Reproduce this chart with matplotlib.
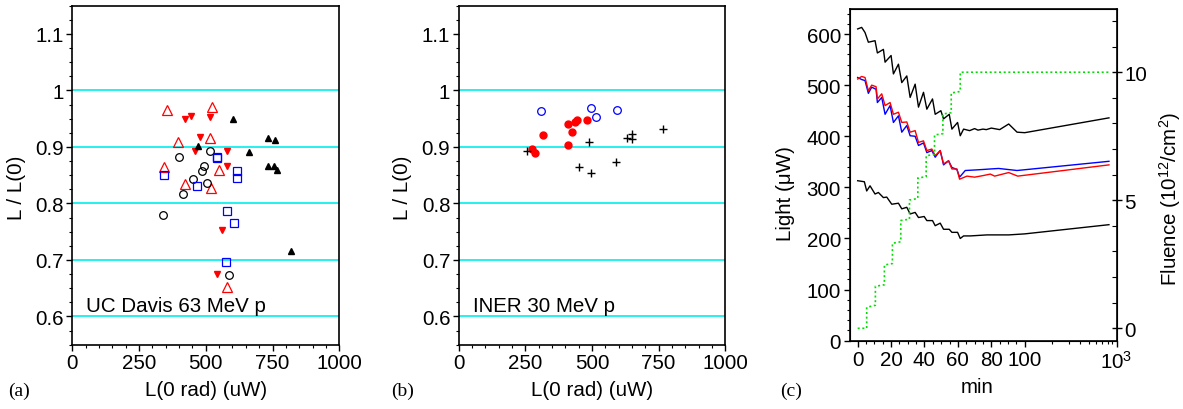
import numpy as np
import matplotlib
matplotlib.use("Agg")
import matplotlib.pyplot as plt
from matplotlib.ticker import MultipleLocator, FixedLocator, FixedFormatter, NullFormatter


# panel (a): UC Davis 63 MeV p, L(0 rad) in uW vs L / L(0)
a_open_tri_x = [353, 524, 395, 517, 342, 421, 548, 519, 580]
a_open_tri_y = [0.966, 0.971, 0.909, 0.916, 0.864, 0.835, 0.860, 0.827, 0.652]
a_down_tri_x = [422, 443, 516, 479, 459, 578, 578, 561, 543]
a_down_tri_y = [0.950, 0.954, 0.953, 0.918, 0.892, 0.892, 0.866, 0.753, 0.676]
a_circle_x = [398, 517, 493, 487, 451, 506, 415, 341, 588]
a_circle_y = [0.882, 0.892, 0.866, 0.857, 0.844, 0.837, 0.817, 0.780, 0.674]
a_square_x = [343, 541, 543, 466, 616, 616, 579, 604, 577]
a_square_y = [0.851, 0.880, 0.883, 0.831, 0.858, 0.845, 0.787, 0.765, 0.697]
a_black_tri_x = [603, 470, 662, 734, 759, 734, 755, 768, 818]
a_black_tri_y = [0.950, 0.901, 0.891, 0.916, 0.913, 0.867, 0.867, 0.860, 0.715]

# panel (b): INER 30 MeV p
b_open_circle_x = [307, 495, 515, 593]
b_open_circle_y = [0.963, 0.969, 0.953, 0.965]
b_red_dot_x = [315, 410, 425, 437, 442, 480, 410, 276, 286]
b_red_dot_y = [0.922, 0.941, 0.927, 0.945, 0.947, 0.947, 0.904, 0.896, 0.890]
b_plus_x = [255, 488, 453, 498, 590, 630, 651, 651, 766]
b_plus_y = [0.893, 0.908, 0.865, 0.854, 0.873, 0.915, 0.923, 0.914, 0.932]

ratio_ticks = [0.6, 0.7, 0.8, 0.9, 1.0, 1.1]
ratio_labels = ["0.6", "0.7", "0.8", "0.9", "1", "1.1"]
light_ticks = [0, 250, 500, 750, 1000]

# panel (c): light output (uW) and fluence vs time (min)
top_t = [0, 2.4, 4.4, 6.4, 10.4, 11.8, 15.4, 16.4, 20, 21.4, 24.4, 26.4, 29.4,
         31.4, 34.4, 36.4, 39.4, 41.4, 44.8, 46.4, 49.8, 51.4, 54.8, 56.4, 59.8,
         61.4, 63.4, 67, 70, 72, 75, 77, 80, 85, 90.4, 95.4, 100, 825]
top_v = [610, 613, 603, 584, 587, 563, 570, 545, 558, 522, 541, 505, 518,
         476, 502, 457, 486, 453, 473, 443, 450, 434, 443, 414, 427,
         401, 414, 411, 415, 412, 414, 413, 416, 413, 424, 408, 407, 436]

red_t = [0, 2.4, 4.4, 6.4, 8.4, 11, 11.8, 14.4, 16.4, 19.4, 21.4, 24.4, 26.4,
         29.4, 31.4, 34.4, 36.4, 39.4, 41.4, 44.4, 46.4, 49.4, 51.4, 54.4, 56.4,
         59.4, 61, 65.4, 70, 75, 79.4, 82, 90.4, 95.8, 825]
red_v = [512, 517, 515, 489, 500, 497, 473, 483, 460, 466, 443, 447, 427,
         428, 408, 411, 388, 391, 372, 375, 362, 372, 346, 352, 336,
         336, 316, 322, 320, 323, 326, 322, 329, 322, 344]

blue_t = [0, 2.4, 4.4, 6.4, 8.4, 11, 11.8, 14.4, 16.4, 19.4, 21.4, 24.4, 26.4,
          29.4, 31.4, 34.4, 36.4, 39.4, 41.4, 44.4, 46.4, 49.4, 51.4, 54.4, 56.4,
          59.4, 61, 64.4, 70, 75, 79.4, 84.4, 95.4, 825]
blue_v = [515, 511, 509, 484, 496, 492, 466, 476, 443, 460, 427, 440, 408,
          421, 401, 400, 382, 387, 368, 372, 359, 372, 344, 352, 339,
          335, 320, 333, 334, 335, 336, 337, 333, 351]

low_t = [0, 4, 5.4, 7.4, 10.4, 12.4, 15.4, 17.4, 20.4, 24.4, 26.4, 29.4, 31.4,
         34.4, 36.4, 39.8, 41.4, 44.8, 46.4, 49.4, 51.4, 54.8, 56.4, 59.8, 61.4,
         63.4, 67.4, 77.4, 90.4, 100, 825]
low_v = [313, 311, 293, 303, 287, 290, 280, 281, 267, 269, 258, 261, 248,
         251, 241, 243, 235, 235, 225, 230, 218, 218, 212, 212, 200,
         205, 205, 207, 207, 209, 227]

fluence_t = [0, 5.4, 5.4, 10.6, 10.6, 16, 16, 20.8, 20.8, 25.8, 25.8, 31, 31,
             36, 36, 41, 41, 46, 46, 51, 51, 56, 56, 61.4, 61.4, 825]
fluence_v = [0, 0, 0.82, 0.90, 1.64, 1.70, 2.47, 2.53, 3.32, 3.38, 4.21, 4.26, 5.01,
             5.07, 5.87, 5.92, 6.74, 6.79, 7.55, 7.60, 8.37, 8.42, 9.19, 9.25, 10.0, 10.0]

CYAN = "#00eeee"
FS = 14.8


def fwd(x):
    x = np.asarray(x, dtype=float)
    return np.where(x <= 100, x, 100 + 55 * np.log10(np.maximum(x, 1e-9) / 100))


def inv(y):
    y = np.asarray(y, dtype=float)
    return np.where(y <= 100, y, 100 * 10 ** ((y - 100) / 55))


def ratio_axes(ax, text):
    for level in [0.6, 0.7, 0.8, 0.9, 1.0]:
        ax.axhline(level, color=CYAN, lw=1.2, zorder=1)
    ax.set_xlim(0, 1000)
    ax.set_ylim(0.55, 1.15)
    ax.xaxis.set_major_locator(FixedLocator(light_ticks))
    ax.xaxis.set_minor_locator(MultipleLocator(50))
    ax.yaxis.set_major_locator(FixedLocator(ratio_ticks))
    ax.yaxis.set_major_formatter(FixedFormatter(ratio_labels))
    ax.yaxis.set_minor_locator(MultipleLocator(0.025))
    ax.tick_params(which="major", direction="out", length=4, width=1, labelsize=FS, pad=2)
    ax.tick_params(which="minor", direction="out", length=2.2, width=0.8)
    for sp in ax.spines.values():
        sp.set_linewidth(1.2)
    ax.text(52, 0.609, text, fontsize=FS, va="baseline")
    ax.set_xlabel("L(0 rad) (uW)", fontsize=FS)
    ax.set_ylabel("L / L(0)", fontsize=FS)
    ax.xaxis.set_label_coords(0.5, -0.105)
    ax.yaxis.set_label_coords(-0.175, 0.465)


def panel_a(ax):
    ratio_axes(ax, "UC Davis 63 MeV p")
    ax.plot(a_open_tri_x, a_open_tri_y, ls="none", marker="^", ms=6.5, mfc="none",
            mec="red", mew=0.9, zorder=3)
    ax.plot(a_down_tri_x, a_down_tri_y, ls="none", marker="v", ms=5, color="red", zorder=3)
    ax.plot(a_circle_x, a_circle_y, ls="none", marker="o", ms=5.5, mfc="none",
            mec="black", mew=0.9, zorder=3)
    ax.plot(a_square_x, a_square_y, ls="none", marker="s", ms=5.3, mfc="none",
            mec="blue", mew=0.9, zorder=3)
    ax.plot(a_black_tri_x, a_black_tri_y, ls="none", marker="^", ms=4.5, color="black", zorder=3)


def panel_b(ax):
    ratio_axes(ax, "INER 30 MeV p")
    ax.plot(b_open_circle_x, b_open_circle_y, ls="none", marker="o", ms=5.5, mfc="none",
            mec="blue", mew=0.9, zorder=3)
    ax.plot(b_red_dot_x, b_red_dot_y, ls="none", marker="o", ms=5, color="red", zorder=3)
    ax.plot(b_plus_x, b_plus_y, ls="none", marker="+", ms=6, mew=1.0, color="black", zorder=3)


def panel_c(ax):
    ax.set_xscale("function", functions=(fwd, inv))
    ax.plot(top_t, top_v, color="black", lw=1.0)
    ax.plot(blue_t, blue_v, color="blue", lw=1.0)
    ax.plot(red_t, red_v, color="red", lw=1.0)
    ax.plot(low_t, low_v, color="black", lw=1.0)
    ax.set_xlim(-4.6, 1000)
    ax.set_ylim(0, 649)
    ax.xaxis.set_major_locator(FixedLocator([0, 20, 40, 60, 80, 100, 1000]))
    ax.xaxis.set_major_formatter(FixedFormatter(["0", "20", "40", "60", "80", "100", "$10^3$"]))
    minor = list(range(5, 100, 5)) + list(range(200, 1000, 100))
    ax.xaxis.set_minor_locator(FixedLocator(minor))
    ax.xaxis.set_minor_formatter(NullFormatter())
    ax.yaxis.set_major_locator(MultipleLocator(100))
    ax.yaxis.set_minor_locator(MultipleLocator(20))
    ax.tick_params(which="major", direction="out", length=4.5, width=1, labelsize=FS, pad=2)
    ax.tick_params(which="minor", direction="out", length=2.2, width=0.8)
    for sp in ax.spines.values():
        sp.set_linewidth(1.2)
    ax.set_xlabel("min", fontsize=FS)
    ax.set_ylabel("Light (\u03bcW)", fontsize=FS)
    ax.xaxis.set_label_coords(0.475, -0.11)
    ax.yaxis.set_label_coords(-0.205, 0.448)

    axr = ax.twinx()
    axr.plot(fluence_t, fluence_v, color="#00dd00", lw=1.2, ls=(0, (1.2, 1.6)))
    axr.set_ylim(-0.484, 12.47)
    axr.yaxis.set_major_locator(FixedLocator([0, 5, 10]))
    axr.yaxis.set_minor_locator(MultipleLocator(1))
    axr.tick_params(which="major", direction="inout", length=7, width=1, labelsize=FS, pad=2)
    axr.tick_params(which="minor", direction="in", length=3.5, width=0.8)
    axr.set_ylabel("Fluence (10$^{12}$/cm$^2$)", fontsize=FS)
    axr.yaxis.set_label_coords(1.15, 0.43)


def main():
    plt.rcParams["font.family"] = ["Liberation Sans", "DejaVu Sans"]
    plt.rcParams["mathtext.fontset"] = "custom"
    plt.rcParams["mathtext.rm"] = "Liberation Sans"
    plt.rcParams["mathtext.default"] = "rm"

    fig = plt.figure(figsize=(11.83, 4.10), dpi=100)
    ax_a = fig.add_axes([0.0611, 0.1568, 0.2257, 0.8268])
    ax_b = fig.add_axes([0.3877, 0.1568, 0.2254, 0.8268])
    ax_c = fig.add_axes([0.7185, 0.1666, 0.2254, 0.8090])

    panel_a(ax_a)
    panel_b(ax_b)
    panel_c(ax_c)

    for x, label in [(0.0068, "(a)"), (0.331, "(b)"), (0.6593, "(c)")]:
        fig.text(x, 0.046, label, family="Liberation Serif", fontsize=14, va="center")

    fig.savefig("out.png", dpi=100)
    plt.close(fig)


if __name__ == "__main__":
    main()
